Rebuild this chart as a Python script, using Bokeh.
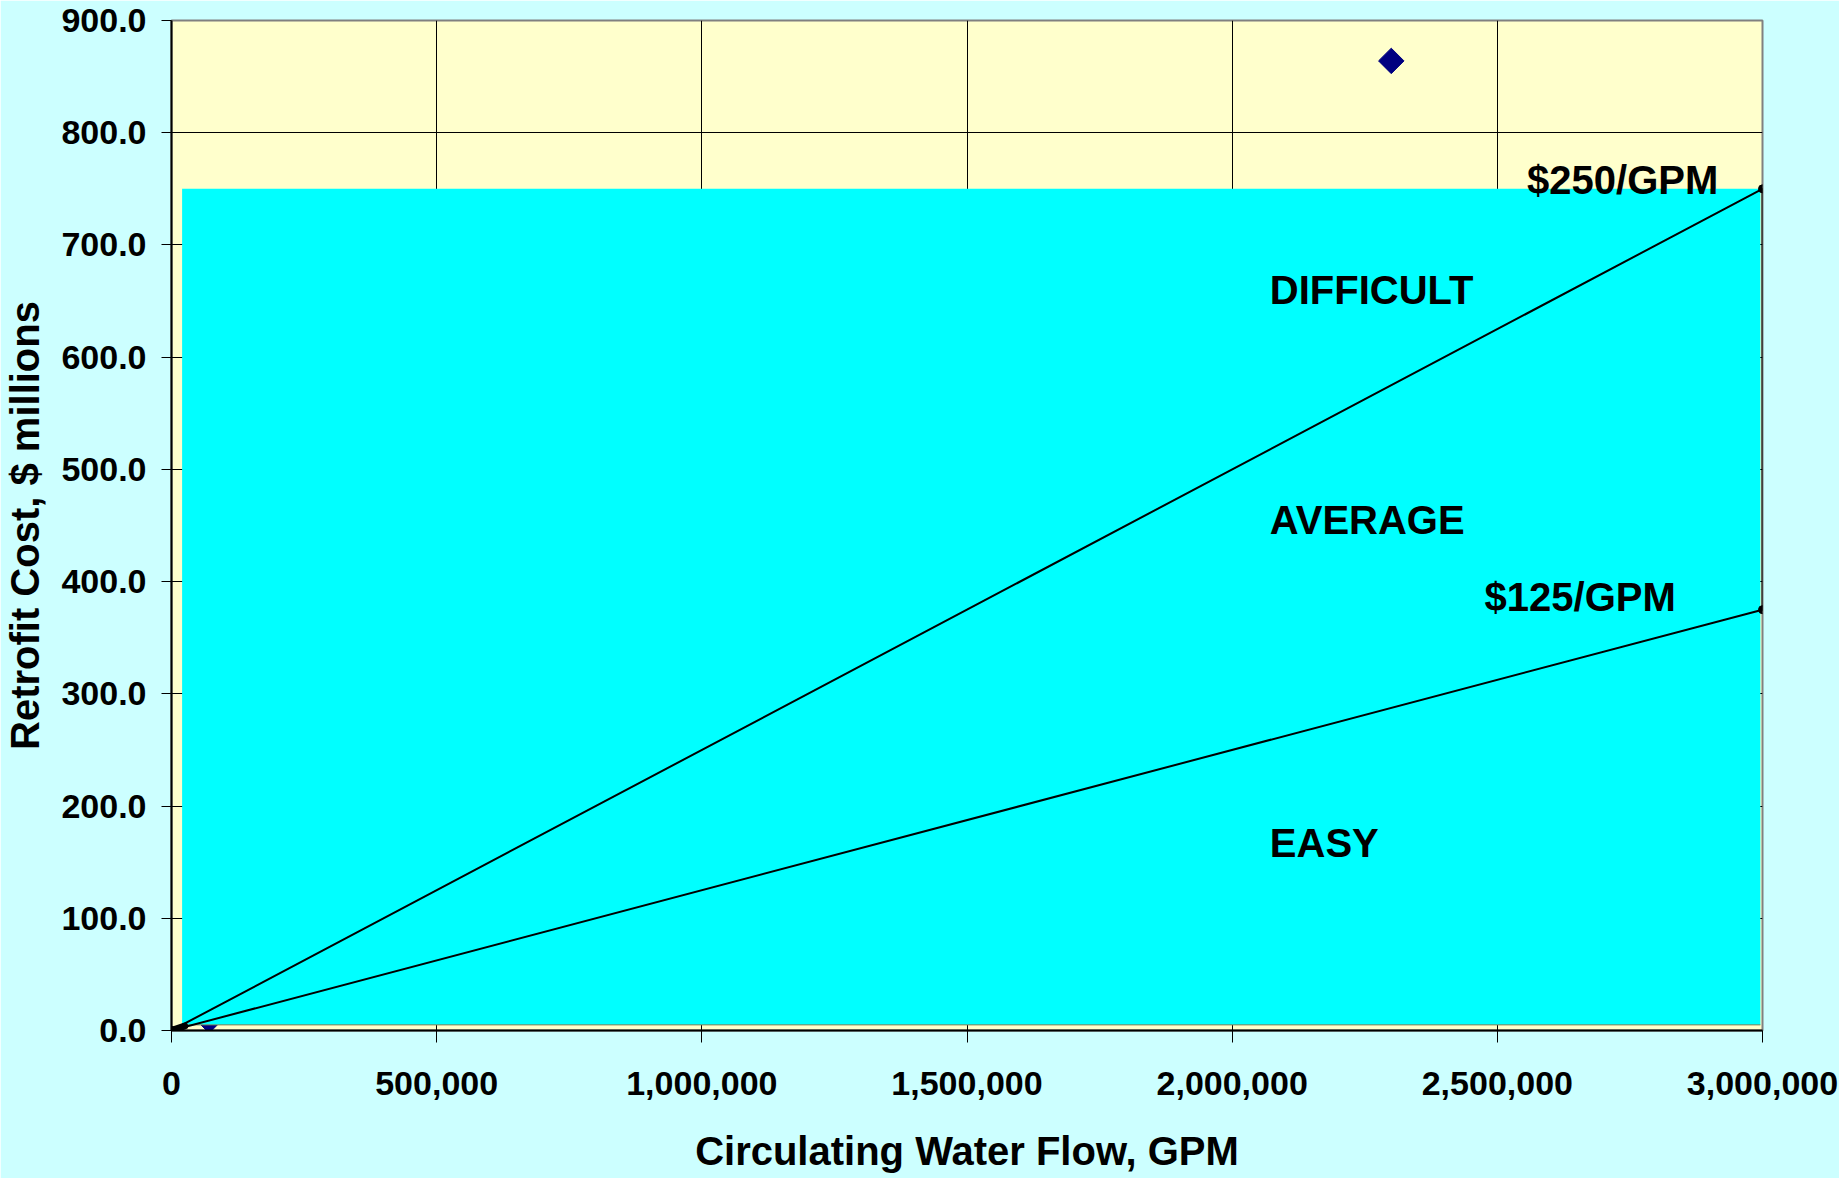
import numpy as np
from bokeh.plotting import figure
from bokeh.models import NumeralTickFormatter, FixedTicker, Range1d
from bokeh.embed import file_html
from bokeh.resources import INLINE
from bokeh.core.properties import value

# ---- data ----
flow_ticks = [0, 500000, 1000000, 1500000, 2000000, 2500000, 3000000]
cost_ticks = [0, 100, 200, 300, 400, 500, 600, 700, 800, 900]

# cost envelope: origin -> $250/GPM at 3,000,000 -> $125/GPM at 3,000,000 -> origin
envelope_x = [0, 3000000, 3000000, 0]
envelope_y = [0, 750, 375, 0]

# individual plant points
plant_x = [2300000, 71000]
plant_y = [864, 9]

# shaded region (area series)
region_x = [20000, 2996000]
region_y = [5, 750]

# short heavy stroke at the origin
origin_x = [0, 25000]
origin_y = [0, 4]

zone_labels = ["DIFFICULT", "AVERAGE", "EASY"]
zone_x = [2071000, 2071000, 2071000]
zone_y = [660, 455, 167]

rate_labels = ["$250/GPM", "$125/GPM"]
rate_x = [2556000, 2476000]
rate_y = [758, 386]

x_title = "Circulating Water Flow, GPM"
y_title = "Retrofit Cost, $ millions"

FONT = "Liberation Sans"

p = figure(width=1839, height=1178, output_backend="svg", toolbar_location=None,
           x_range=Range1d(0, 3000000), y_range=Range1d(0, 900),
           min_border_left=171, min_border_right=77, min_border_top=20, min_border_bottom=148)

p.background_fill_color = "#FFFFCC"
p.border_fill_color = "#CCFFFF"
p.outline_line_color = "#808080"
p.outline_line_width = 2

# grid
p.xgrid.ticker = FixedTicker(ticks=flow_ticks)
p.ygrid.ticker = FixedTicker(ticks=cost_ticks)
for g in (p.xgrid, p.ygrid):
    g.grid_line_color = "#000000"
    g.grid_line_width = 1

# axes
p.xaxis.ticker = FixedTicker(ticks=flow_ticks)
p.yaxis.ticker = FixedTicker(ticks=cost_ticks)
p.xaxis.formatter = NumeralTickFormatter(format="0,0")
p.yaxis.formatter = NumeralTickFormatter(format="0.0")
p.xaxis.axis_label = x_title
p.yaxis.axis_label = y_title
for ax in (p.xaxis, p.yaxis):
    ax.axis_line_color = "#000000"
    ax.axis_line_width = 2
    ax.major_tick_line_color = "#000000"
    ax.major_tick_in = 0
    ax.minor_tick_line_color = None
    ax.major_label_text_font = FONT
    ax.major_label_text_font_style = "bold"
    ax.major_label_text_font_size = "34px"
    ax.major_label_text_color = "#000000"
    ax.axis_label_text_font = FONT
    ax.axis_label_text_font_style = "bold"
    ax.axis_label_text_font_size = "40px"
    ax.axis_label_text_color = "#000000"
p.xaxis.major_tick_out = 12
p.yaxis.major_tick_out = 10
p.xaxis.major_label_standoff = 29
p.yaxis.major_label_standoff = 15
p.xaxis.axis_label_standoff = 31
p.yaxis.axis_label_standoff = 11

# plant point partially hidden behind the area
p.scatter([plant_x[1]], [plant_y[1]], marker="square", angle=np.pi / 4, size=18,
          fill_color="#000080", line_color="#000080")

# shaded area
p.quad(left=[region_x[0]], right=[region_x[1]], bottom=[region_y[0]], top=[region_y[1]],
       fill_color="#00FFFF", line_color=None)
p.segment(x0=[region_x[0]], y0=[region_y[0]], x1=[region_x[1]], y1=[region_y[0]],
          line_color="#8a7a50", line_width=1)

# envelope
p.line(envelope_x, envelope_y, line_color="#000000", line_width=2)
p.scatter(envelope_x, envelope_y, marker="circle", size=8, fill_color="#000000", line_color="#000000")
p.line(origin_x, origin_y, line_color="#000000", line_width=7, line_cap="round")

# top plant point
p.scatter([plant_x[0]], [plant_y[0]], marker="square", angle=np.pi / 4, size=18,
          fill_color="#000080", line_color="#000080")

# labels
p.text(x=zone_x, y=zone_y, text=zone_labels, text_font=value(FONT), text_font_style="bold",
       text_font_size="40px", text_color="#000000", text_align="left", text_baseline="middle")
p.text(x=rate_x, y=rate_y, text=rate_labels, text_font=value(FONT), text_font_style="bold",
       text_font_size="40px", text_color="#000000", text_align="left", text_baseline="middle")

open("out.html", "w").write(file_html(p, INLINE))
